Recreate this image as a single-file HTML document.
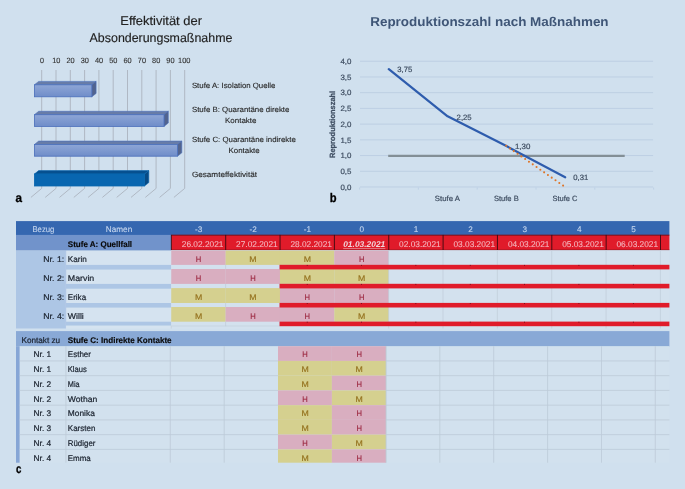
<!DOCTYPE html>
<html lang="de"><head><meta charset="utf-8"><title>Absonderungsma&szlig;nahmen</title>
<style>html,body{margin:0;padding:0;background:#d0e0ee;}body{width:685px;height:489px;overflow:hidden;}svg{display:block;font-family:"Liberation Sans", sans-serif;text-rendering:geometricPrecision;}</style>
</head><body>
<svg width="685" height="489" viewBox="0 0 685 489">
<defs>
<linearGradient id="gf" x1="0" y1="0" x2="0" y2="1"><stop offset="0" stop-color="#8ea6d6"/><stop offset="1" stop-color="#6f8dc9"/></linearGradient>
</defs>
<rect x="0.00" y="0.00" width="685.00" height="489.00" fill="#d0e0ee"/>
<g id="chart-a">
<text x="120.3" y="24.9" font-size="12.6" fill="#222" textLength="81.7" lengthAdjust="spacingAndGlyphs" stroke="#222" stroke-width="0.15">Effektivität der</text>
<text x="89.6" y="41.5" font-size="12.6" fill="#222" textLength="142.8" lengthAdjust="spacingAndGlyphs" stroke="#222" stroke-width="0.15">Absonderungsmaßnahme</text>
<text x="40.0" y="63.4" font-size="7.6" fill="#333" textLength="4.0" lengthAdjust="spacingAndGlyphs" stroke="#333" stroke-width="0.12">0</text>
<text x="52.2" y="63.4" font-size="7.6" fill="#333" textLength="8.2" lengthAdjust="spacingAndGlyphs" stroke="#333" stroke-width="0.12">10</text>
<text x="66.4" y="63.4" font-size="7.6" fill="#333" textLength="8.2" lengthAdjust="spacingAndGlyphs" stroke="#333" stroke-width="0.12">20</text>
<text x="80.7" y="63.4" font-size="7.6" fill="#333" textLength="8.2" lengthAdjust="spacingAndGlyphs" stroke="#333" stroke-width="0.12">30</text>
<text x="95.0" y="63.4" font-size="7.6" fill="#333" textLength="8.2" lengthAdjust="spacingAndGlyphs" stroke="#333" stroke-width="0.12">40</text>
<text x="109.2" y="63.4" font-size="7.6" fill="#333" textLength="8.2" lengthAdjust="spacingAndGlyphs" stroke="#333" stroke-width="0.12">50</text>
<text x="123.5" y="63.4" font-size="7.6" fill="#333" textLength="8.2" lengthAdjust="spacingAndGlyphs" stroke="#333" stroke-width="0.12">60</text>
<text x="137.8" y="63.4" font-size="7.6" fill="#333" textLength="8.2" lengthAdjust="spacingAndGlyphs" stroke="#333" stroke-width="0.12">70</text>
<text x="152.1" y="63.4" font-size="7.6" fill="#333" textLength="8.2" lengthAdjust="spacingAndGlyphs" stroke="#333" stroke-width="0.12">80</text>
<text x="166.3" y="63.4" font-size="7.6" fill="#333" textLength="8.2" lengthAdjust="spacingAndGlyphs" stroke="#333" stroke-width="0.12">90</text>
<text x="178.1" y="63.4" font-size="7.6" fill="#333" textLength="12.4" lengthAdjust="spacingAndGlyphs" stroke="#333" stroke-width="0.12">100</text>
<polyline points="41.7,70 41.7,188.4 30.9,197.4" fill="none" stroke="#abb3be" stroke-width="0.9"/>
<polyline points="56.0,70 56.0,188.4 45.2,197.4" fill="none" stroke="#abb3be" stroke-width="0.9"/>
<polyline points="70.3,70 70.3,188.4 59.5,197.4" fill="none" stroke="#abb3be" stroke-width="0.9"/>
<polyline points="84.6,70 84.6,188.4 73.8,197.4" fill="none" stroke="#abb3be" stroke-width="0.9"/>
<polyline points="98.9,70 98.9,188.4 88.1,197.4" fill="none" stroke="#abb3be" stroke-width="0.9"/>
<polyline points="113.2,70 113.2,188.4 102.4,197.4" fill="none" stroke="#abb3be" stroke-width="0.9"/>
<polyline points="127.5,70 127.5,188.4 116.7,197.4" fill="none" stroke="#abb3be" stroke-width="0.9"/>
<polyline points="141.8,70 141.8,188.4 131.0,197.4" fill="none" stroke="#abb3be" stroke-width="0.9"/>
<polyline points="156.1,70 156.1,188.4 145.3,197.4" fill="none" stroke="#abb3be" stroke-width="0.9"/>
<polyline points="170.4,70 170.4,188.4 159.6,197.4" fill="none" stroke="#abb3be" stroke-width="0.9"/>
<polyline points="184.7,70 184.7,188.4 173.9,197.4" fill="none" stroke="#abb3be" stroke-width="0.9"/>
<polygon points="34.4,84.8 38.699999999999996,81.39999999999999 96.1,81.39999999999999 91.8,84.8" fill="#677ca8" stroke="#4a6fbb" stroke-width="0.6" stroke-linejoin="round"/>
<polygon points="91.8,84.8 96.1,81.39999999999999 96.1,93.39999999999999 91.8,96.8" fill="#52648e" stroke="#4a6fbb" stroke-width="0.6" stroke-linejoin="round"/>
<rect x="34.4" y="84.8" width="57.4" height="12.0" fill="url(#gf)" stroke="#4a6fbb" stroke-width="0.8"/>
<polygon points="34.4,114.7 38.699999999999996,111.3 168.3,111.3 164.0,114.7" fill="#677ca8" stroke="#4a6fbb" stroke-width="0.6" stroke-linejoin="round"/>
<polygon points="164.0,114.7 168.3,111.3 168.3,123.0 164.0,126.4" fill="#52648e" stroke="#4a6fbb" stroke-width="0.6" stroke-linejoin="round"/>
<rect x="34.4" y="114.7" width="129.6" height="11.7" fill="url(#gf)" stroke="#4a6fbb" stroke-width="0.8"/>
<polygon points="34.4,144.5 38.699999999999996,141.1 181.8,141.1 177.5,144.5" fill="#677ca8" stroke="#4a6fbb" stroke-width="0.6" stroke-linejoin="round"/>
<polygon points="177.5,144.5 181.8,141.1 181.8,152.79999999999998 177.5,156.2" fill="#52648e" stroke="#4a6fbb" stroke-width="0.6" stroke-linejoin="round"/>
<rect x="34.4" y="144.5" width="143.1" height="11.7" fill="url(#gf)" stroke="#4a6fbb" stroke-width="0.8"/>
<polygon points="34.4,174.0 38.699999999999996,170.6 148.8,170.6 144.5,174.0" fill="#06508f" stroke="#0866b0" stroke-width="0.6" stroke-linejoin="round"/>
<polygon points="144.5,174.0 148.8,170.6 148.8,182.6 144.5,186.0" fill="#064a85" stroke="#0866b0" stroke-width="0.6" stroke-linejoin="round"/>
<rect x="34.4" y="174.0" width="110.1" height="12.0" fill="#0866b0" stroke="#0866b0" stroke-width="0.8"/>
<text x="191.9" y="88.4" font-size="7.6" fill="#262626" textLength="83.5" lengthAdjust="spacingAndGlyphs" stroke="#262626" stroke-width="0.12">Stufe A: Isolation Quelle</text>
<text x="191.9" y="112.2" font-size="7.6" fill="#262626" textLength="97.5" lengthAdjust="spacingAndGlyphs" stroke="#262626" stroke-width="0.12">Stufe B: Quarantäne direkte</text>
<text x="225.0" y="122.9" font-size="7.6" fill="#262626" textLength="31.5" lengthAdjust="spacingAndGlyphs" stroke="#262626" stroke-width="0.12">Kontakte</text>
<text x="191.9" y="141.8" font-size="7.6" fill="#262626" textLength="103.9" lengthAdjust="spacingAndGlyphs" stroke="#262626" stroke-width="0.12">Stufe C: Quarantäne indirekte</text>
<text x="228.5" y="153.1" font-size="7.6" fill="#262626" textLength="31.2" lengthAdjust="spacingAndGlyphs" stroke="#262626" stroke-width="0.12">Kontakte</text>
<text x="191.9" y="177.0" font-size="7.6" fill="#262626" textLength="65.1" lengthAdjust="spacingAndGlyphs" stroke="#262626" stroke-width="0.12">Gesamteffektivität</text>
<text x="15.5" y="201.8" font-size="12.5" fill="#000" font-weight="bold" textLength="6.5" lengthAdjust="spacingAndGlyphs" stroke="#000" stroke-width="0.3">a</text>
</g>
<g id="chart-b">
<text x="370.2" y="26.3" font-size="12.9" fill="#3f5677" font-weight="bold" textLength="238.4" lengthAdjust="spacingAndGlyphs">Reproduktionszahl nach Maßnahmen</text>
<line x1="360.00" y1="187.00" x2="653.10" y2="187.00" stroke="#bdcfe3" stroke-width="1.0"/>
<text x="340.4" y="189.7" font-size="7.6" fill="#3f4e62" textLength="11.0" lengthAdjust="spacingAndGlyphs" stroke="#3f4e62" stroke-width="0.2">0,0</text>
<line x1="360.00" y1="171.28" x2="653.10" y2="171.28" stroke="#bdcfe3" stroke-width="1.0"/>
<text x="340.4" y="174.0" font-size="7.6" fill="#3f4e62" textLength="11.0" lengthAdjust="spacingAndGlyphs" stroke="#3f4e62" stroke-width="0.2">0,5</text>
<line x1="360.00" y1="155.56" x2="653.10" y2="155.56" stroke="#bdcfe3" stroke-width="1.0"/>
<text x="340.4" y="158.3" font-size="7.6" fill="#3f4e62" textLength="11.0" lengthAdjust="spacingAndGlyphs" stroke="#3f4e62" stroke-width="0.2">1,0</text>
<line x1="360.00" y1="139.84" x2="653.10" y2="139.84" stroke="#bdcfe3" stroke-width="1.0"/>
<text x="340.4" y="142.5" font-size="7.6" fill="#3f4e62" textLength="11.0" lengthAdjust="spacingAndGlyphs" stroke="#3f4e62" stroke-width="0.2">1,5</text>
<line x1="360.00" y1="124.12" x2="653.10" y2="124.12" stroke="#bdcfe3" stroke-width="1.0"/>
<text x="340.4" y="126.8" font-size="7.6" fill="#3f4e62" textLength="11.0" lengthAdjust="spacingAndGlyphs" stroke="#3f4e62" stroke-width="0.2">2,0</text>
<line x1="360.00" y1="108.40" x2="653.10" y2="108.40" stroke="#bdcfe3" stroke-width="1.0"/>
<text x="340.4" y="111.1" font-size="7.6" fill="#3f4e62" textLength="11.0" lengthAdjust="spacingAndGlyphs" stroke="#3f4e62" stroke-width="0.2">2,5</text>
<line x1="360.00" y1="92.68" x2="653.10" y2="92.68" stroke="#bdcfe3" stroke-width="1.0"/>
<text x="340.4" y="95.4" font-size="7.6" fill="#3f4e62" textLength="11.0" lengthAdjust="spacingAndGlyphs" stroke="#3f4e62" stroke-width="0.2">3,0</text>
<line x1="360.00" y1="76.96" x2="653.10" y2="76.96" stroke="#bdcfe3" stroke-width="1.0"/>
<text x="340.4" y="79.7" font-size="7.6" fill="#3f4e62" textLength="11.0" lengthAdjust="spacingAndGlyphs" stroke="#3f4e62" stroke-width="0.2">3,5</text>
<line x1="360.00" y1="61.24" x2="653.10" y2="61.24" stroke="#bdcfe3" stroke-width="1.0"/>
<text x="340.4" y="63.9" font-size="7.6" fill="#3f4e62" textLength="11.0" lengthAdjust="spacingAndGlyphs" stroke="#3f4e62" stroke-width="0.2">4,0</text>
<line x1="359.60" y1="187.50" x2="359.60" y2="189.60" stroke="#bccfe4" stroke-width="0.9"/>
<line x1="418.40" y1="187.50" x2="418.40" y2="189.60" stroke="#bccfe4" stroke-width="0.9"/>
<line x1="477.20" y1="187.50" x2="477.20" y2="189.60" stroke="#bccfe4" stroke-width="0.9"/>
<line x1="536.00" y1="187.50" x2="536.00" y2="189.60" stroke="#bccfe4" stroke-width="0.9"/>
<line x1="594.80" y1="187.50" x2="594.80" y2="189.60" stroke="#bccfe4" stroke-width="0.9"/>
<line x1="653.60" y1="187.50" x2="653.60" y2="189.60" stroke="#bccfe4" stroke-width="0.9"/>
<text transform="translate(334.9,158) rotate(-90)" font-size="7.6" font-weight="bold" fill="#3f4e62" stroke="#3f4e62" stroke-width="0.25" textLength="67.2" lengthAdjust="spacingAndGlyphs">Reproduktionszahl</text>
<line x1="388.20" y1="155.86" x2="624.70" y2="155.86" stroke="#838f96" stroke-width="2.1"/>
<polyline points="388.8,69.1 447.6,116.3 506.4,146.1 565.2,177.3" fill="none" stroke="#2e5cad" stroke-width="2.2" stroke-linejoin="round" stroke-linecap="round"/>
<line x1="506.2" y1="145.8" x2="563.1" y2="185.6" stroke="#de7528" stroke-width="2.1" stroke-dasharray="0 4.629" stroke-linecap="round"/>
<text x="397.3" y="72.4" font-size="7.6" fill="#3f4e62" textLength="15.0" lengthAdjust="spacingAndGlyphs" stroke="#3f4e62" stroke-width="0.2">3,75</text>
<text x="456.6" y="119.6" font-size="7.6" fill="#3f4e62" textLength="15.0" lengthAdjust="spacingAndGlyphs" stroke="#3f4e62" stroke-width="0.2">2,25</text>
<text x="514.9" y="148.9" font-size="7.6" fill="#3f4e62" textLength="15.4" lengthAdjust="spacingAndGlyphs" stroke="#3f4e62" stroke-width="0.2">1,30</text>
<text x="573.3" y="180.2" font-size="7.6" fill="#3f4e62" textLength="15.0" lengthAdjust="spacingAndGlyphs" stroke="#3f4e62" stroke-width="0.2">0,31</text>
<text x="434.8" y="201.0" font-size="7.6" fill="#3f4e62" textLength="25.1" lengthAdjust="spacingAndGlyphs" stroke="#3f4e62" stroke-width="0.2">Stufe A</text>
<text x="493.9" y="201.0" font-size="7.6" fill="#3f4e62" textLength="24.8" lengthAdjust="spacingAndGlyphs" stroke="#3f4e62" stroke-width="0.2">Stufe B</text>
<text x="552.5" y="201.0" font-size="7.6" fill="#3f4e62" textLength="24.8" lengthAdjust="spacingAndGlyphs" stroke="#3f4e62" stroke-width="0.2">Stufe C</text>
<text x="329.8" y="202.0" font-size="12.5" fill="#000" font-weight="bold" textLength="6.8" lengthAdjust="spacingAndGlyphs" stroke="#000" stroke-width="0.3">b</text>
</g>
<g id="table-c">
<rect x="16.00" y="221.10" width="653.40" height="13.90" fill="#3567b0"/>
<text x="43.4" y="231.7" font-size="8.2" fill="#c6d6ee" text-anchor="middle" textLength="21.9" lengthAdjust="spacingAndGlyphs" stroke="#c6d6ee" stroke-width="0.1">Bezug</text>
<text x="119.0" y="231.7" font-size="8.2" fill="#c6d6ee" text-anchor="middle" textLength="26.4" lengthAdjust="spacingAndGlyphs" stroke="#c6d6ee" stroke-width="0.1">Namen</text>
<text x="198.7" y="232.3" font-size="8.2" fill="#c6d6ee" text-anchor="middle" stroke="#c6d6ee" stroke-width="0.1">-3</text>
<text x="253.1" y="232.3" font-size="8.2" fill="#c6d6ee" text-anchor="middle" stroke="#c6d6ee" stroke-width="0.1">-2</text>
<text x="307.4" y="232.3" font-size="8.2" fill="#c6d6ee" text-anchor="middle" stroke="#c6d6ee" stroke-width="0.1">-1</text>
<text x="361.8" y="232.3" font-size="8.2" fill="#c6d6ee" text-anchor="middle" stroke="#c6d6ee" stroke-width="0.1">0</text>
<text x="416.1" y="232.3" font-size="8.2" fill="#c6d6ee" text-anchor="middle" stroke="#c6d6ee" stroke-width="0.1">1</text>
<text x="470.5" y="232.3" font-size="8.2" fill="#c6d6ee" text-anchor="middle" stroke="#c6d6ee" stroke-width="0.1">2</text>
<text x="524.8" y="232.3" font-size="8.2" fill="#c6d6ee" text-anchor="middle" stroke="#c6d6ee" stroke-width="0.1">3</text>
<text x="579.2" y="232.3" font-size="8.2" fill="#c6d6ee" text-anchor="middle" stroke="#c6d6ee" stroke-width="0.1">4</text>
<text x="633.5" y="232.3" font-size="8.2" fill="#c6d6ee" text-anchor="middle" stroke="#c6d6ee" stroke-width="0.1">5</text>
<rect x="16.00" y="234.90" width="155.25" height="15.60" fill="#7193cb"/>
<rect x="171.25" y="234.90" width="498.15" height="15.10" fill="#e01b2a"/>
<text x="67.8" y="247.0" font-size="8.2" fill="#0a0a0a" font-weight="bold" textLength="64.3" lengthAdjust="spacingAndGlyphs" stroke="#0a0a0a" stroke-width="0.15">Stufe A: Quellfall</text>
<text x="181.8" y="246.9" font-size="8.3" fill="#f3b6be" textLength="41.6" lengthAdjust="spacingAndGlyphs" stroke="#f3b6be" stroke-width="0.1">26.02.2021</text>
<text x="236.1" y="246.9" font-size="8.3" fill="#f3b6be" textLength="41.6" lengthAdjust="spacingAndGlyphs" stroke="#f3b6be" stroke-width="0.1">27.02.2021</text>
<text x="290.4" y="246.9" font-size="8.3" fill="#f3b6be" textLength="41.6" lengthAdjust="spacingAndGlyphs" stroke="#f3b6be" stroke-width="0.1">28.02.2021</text>
<text x="343.2" y="246.9" font-size="8.3" fill="#f0d6db" font-weight="bold" font-style="italic" textLength="42.1" lengthAdjust="spacingAndGlyphs">01.03.2021</text>
<line x1="343.20" y1="248.60" x2="385.30" y2="248.60" stroke="#e8a4ad" stroke-width="0.7"/>
<text x="399.1" y="246.9" font-size="8.3" fill="#f3b6be" textLength="41.6" lengthAdjust="spacingAndGlyphs" stroke="#f3b6be" stroke-width="0.1">02.03.2021</text>
<text x="453.5" y="246.9" font-size="8.3" fill="#f3b6be" textLength="41.6" lengthAdjust="spacingAndGlyphs" stroke="#f3b6be" stroke-width="0.1">03.03.2021</text>
<text x="507.9" y="246.9" font-size="8.3" fill="#f3b6be" textLength="41.6" lengthAdjust="spacingAndGlyphs" stroke="#f3b6be" stroke-width="0.1">04.03.2021</text>
<text x="562.2" y="246.9" font-size="8.3" fill="#f3b6be" textLength="41.6" lengthAdjust="spacingAndGlyphs" stroke="#f3b6be" stroke-width="0.1">05.03.2021</text>
<text x="616.5" y="246.9" font-size="8.3" fill="#f3b6be" textLength="41.6" lengthAdjust="spacingAndGlyphs" stroke="#f3b6be" stroke-width="0.1">06.03.2021</text>
<line x1="171.25" y1="235.20" x2="669.40" y2="235.20" stroke="#5c1018" stroke-width="0.8"/>
<line x1="171.25" y1="249.80" x2="669.40" y2="249.80" stroke="#8a1520" stroke-width="0.6"/>
<line x1="171.35" y1="234.90" x2="171.35" y2="250.00" stroke="#3a0a10" stroke-width="0.9"/>
<line x1="225.70" y1="234.90" x2="225.70" y2="250.00" stroke="#3a0a10" stroke-width="0.9"/>
<line x1="280.05" y1="234.90" x2="280.05" y2="250.00" stroke="#3a0a10" stroke-width="0.9"/>
<line x1="334.40" y1="234.90" x2="334.40" y2="250.00" stroke="#3a0a10" stroke-width="0.9"/>
<line x1="388.75" y1="234.90" x2="388.75" y2="250.00" stroke="#3a0a10" stroke-width="0.9"/>
<line x1="443.10" y1="234.90" x2="443.10" y2="250.00" stroke="#3a0a10" stroke-width="0.9"/>
<line x1="497.45" y1="234.90" x2="497.45" y2="250.00" stroke="#3a0a10" stroke-width="0.9"/>
<line x1="551.80" y1="234.90" x2="551.80" y2="250.00" stroke="#3a0a10" stroke-width="0.9"/>
<line x1="606.15" y1="234.90" x2="606.15" y2="250.00" stroke="#3a0a10" stroke-width="0.9"/>
<line x1="660.50" y1="234.90" x2="660.50" y2="250.00" stroke="#3a0a10" stroke-width="0.9"/>
<rect x="16.00" y="250.80" width="49.90" height="77.70" fill="#adc6e5"/>
<rect x="65.90" y="250.80" width="105.35" height="74.80" fill="#adc6e5"/>
<rect x="171.25" y="250.60" width="498.15" height="77.90" fill="#d3e1ee"/>
<rect x="66.20" y="250.80" width="105.05" height="14.10" fill="#d5e3f0"/>
<text x="64.2" y="262.0" font-size="8.2" fill="#1a222e" text-anchor="end" textLength="20.9" lengthAdjust="spacingAndGlyphs" stroke="#1a222e" stroke-width="0.2">Nr. 1:</text>
<text x="67.8" y="262.0" font-size="8.2" fill="#1a222e" textLength="19.0" lengthAdjust="spacingAndGlyphs" stroke="#1a222e" stroke-width="0.2">Karin</text>
<rect x="171.25" y="250.60" width="54.45" height="14.30" fill="#d9aec0"/>
<text x="198.6" y="261.8" font-size="8.1" fill="#9c2840" text-anchor="middle" textLength="5.5" lengthAdjust="spacingAndGlyphs" stroke="#9c2840" stroke-width="0.15">H</text>
<rect x="225.60" y="250.60" width="54.45" height="14.30" fill="#d5d08f"/>
<text x="253.0" y="261.8" font-size="8.1" fill="#94701c" text-anchor="middle" textLength="7.3" lengthAdjust="spacingAndGlyphs" stroke="#94701c" stroke-width="0.15">M</text>
<rect x="279.95" y="250.60" width="54.45" height="14.30" fill="#d5d08f"/>
<text x="307.3" y="261.8" font-size="8.1" fill="#94701c" text-anchor="middle" textLength="7.3" lengthAdjust="spacingAndGlyphs" stroke="#94701c" stroke-width="0.15">M</text>
<rect x="334.30" y="250.60" width="54.45" height="14.30" fill="#d9aec0"/>
<text x="361.7" y="261.8" font-size="8.1" fill="#9c2840" text-anchor="middle" textLength="5.5" lengthAdjust="spacingAndGlyphs" stroke="#9c2840" stroke-width="0.15">H</text>
<rect x="66.20" y="269.60" width="105.05" height="14.30" fill="#d5e3f0"/>
<text x="64.2" y="281.0" font-size="8.2" fill="#1a222e" text-anchor="end" textLength="20.9" lengthAdjust="spacingAndGlyphs" stroke="#1a222e" stroke-width="0.2">Nr. 2:</text>
<text x="67.8" y="281.0" font-size="8.2" fill="#1a222e" textLength="26.5" lengthAdjust="spacingAndGlyphs" stroke="#1a222e" stroke-width="0.2">Marvin</text>
<rect x="171.25" y="269.00" width="54.45" height="14.90" fill="#d9aec0"/>
<text x="198.6" y="280.8" font-size="8.1" fill="#9c2840" text-anchor="middle" textLength="5.5" lengthAdjust="spacingAndGlyphs" stroke="#9c2840" stroke-width="0.15">H</text>
<rect x="225.60" y="269.00" width="54.45" height="14.90" fill="#d9aec0"/>
<text x="253.0" y="280.8" font-size="8.1" fill="#9c2840" text-anchor="middle" textLength="5.5" lengthAdjust="spacingAndGlyphs" stroke="#9c2840" stroke-width="0.15">H</text>
<rect x="279.95" y="269.00" width="54.45" height="14.90" fill="#d5d08f"/>
<text x="307.3" y="280.8" font-size="8.1" fill="#94701c" text-anchor="middle" textLength="7.3" lengthAdjust="spacingAndGlyphs" stroke="#94701c" stroke-width="0.15">M</text>
<rect x="334.30" y="269.00" width="54.45" height="14.90" fill="#d5d08f"/>
<text x="361.7" y="280.8" font-size="8.1" fill="#94701c" text-anchor="middle" textLength="7.3" lengthAdjust="spacingAndGlyphs" stroke="#94701c" stroke-width="0.15">M</text>
<rect x="66.20" y="288.70" width="105.05" height="14.30" fill="#d5e3f0"/>
<text x="64.2" y="300.1" font-size="8.2" fill="#1a222e" text-anchor="end" textLength="20.9" lengthAdjust="spacingAndGlyphs" stroke="#1a222e" stroke-width="0.2">Nr. 3:</text>
<text x="67.8" y="300.1" font-size="8.2" fill="#1a222e" textLength="18.3" lengthAdjust="spacingAndGlyphs" stroke="#1a222e" stroke-width="0.2">Erika</text>
<rect x="171.25" y="288.10" width="54.45" height="14.90" fill="#d5d08f"/>
<text x="198.6" y="299.9" font-size="8.1" fill="#94701c" text-anchor="middle" textLength="7.3" lengthAdjust="spacingAndGlyphs" stroke="#94701c" stroke-width="0.15">M</text>
<rect x="225.60" y="288.10" width="54.45" height="14.90" fill="#d5d08f"/>
<text x="253.0" y="299.9" font-size="8.1" fill="#94701c" text-anchor="middle" textLength="7.3" lengthAdjust="spacingAndGlyphs" stroke="#94701c" stroke-width="0.15">M</text>
<rect x="279.95" y="288.10" width="54.45" height="14.90" fill="#d9aec0"/>
<text x="307.3" y="299.9" font-size="8.1" fill="#9c2840" text-anchor="middle" textLength="5.5" lengthAdjust="spacingAndGlyphs" stroke="#9c2840" stroke-width="0.15">H</text>
<rect x="334.30" y="288.10" width="54.45" height="14.90" fill="#d9aec0"/>
<text x="361.7" y="299.9" font-size="8.1" fill="#9c2840" text-anchor="middle" textLength="5.5" lengthAdjust="spacingAndGlyphs" stroke="#9c2840" stroke-width="0.15">H</text>
<rect x="66.20" y="307.60" width="105.05" height="14.10" fill="#d5e3f0"/>
<text x="64.2" y="318.8" font-size="8.2" fill="#1a222e" text-anchor="end" textLength="20.9" lengthAdjust="spacingAndGlyphs" stroke="#1a222e" stroke-width="0.2">Nr. 4:</text>
<text x="67.8" y="318.8" font-size="8.2" fill="#1a222e" textLength="16.0" lengthAdjust="spacingAndGlyphs" stroke="#1a222e" stroke-width="0.2">Willi</text>
<rect x="171.25" y="307.00" width="54.45" height="14.70" fill="#d5d08f"/>
<text x="198.6" y="318.6" font-size="8.1" fill="#94701c" text-anchor="middle" textLength="7.3" lengthAdjust="spacingAndGlyphs" stroke="#94701c" stroke-width="0.15">M</text>
<rect x="225.60" y="307.00" width="54.45" height="14.70" fill="#d9aec0"/>
<text x="253.0" y="318.6" font-size="8.1" fill="#9c2840" text-anchor="middle" textLength="5.5" lengthAdjust="spacingAndGlyphs" stroke="#9c2840" stroke-width="0.15">H</text>
<rect x="279.95" y="307.00" width="54.45" height="14.70" fill="#d9aec0"/>
<text x="307.3" y="318.6" font-size="8.1" fill="#9c2840" text-anchor="middle" textLength="5.5" lengthAdjust="spacingAndGlyphs" stroke="#9c2840" stroke-width="0.15">H</text>
<rect x="334.30" y="307.00" width="54.45" height="14.70" fill="#d5d08f"/>
<text x="361.7" y="318.6" font-size="8.1" fill="#94701c" text-anchor="middle" textLength="7.3" lengthAdjust="spacingAndGlyphs" stroke="#94701c" stroke-width="0.15">M</text>
<rect x="66.20" y="325.80" width="105.05" height="2.70" fill="#d5e3f0"/>
<line x1="225.60" y1="264.90" x2="225.60" y2="269.30" stroke="#c0ccd9" stroke-width="0.7"/>
<line x1="225.60" y1="283.90" x2="225.60" y2="288.30" stroke="#c0ccd9" stroke-width="0.7"/>
<line x1="225.60" y1="303.00" x2="225.60" y2="307.40" stroke="#c0ccd9" stroke-width="0.7"/>
<line x1="225.60" y1="321.70" x2="225.60" y2="326.10" stroke="#c0ccd9" stroke-width="0.7"/>
<line x1="279.95" y1="264.90" x2="279.95" y2="269.30" stroke="#c0ccd9" stroke-width="0.7"/>
<line x1="279.95" y1="283.90" x2="279.95" y2="288.30" stroke="#c0ccd9" stroke-width="0.7"/>
<line x1="279.95" y1="303.00" x2="279.95" y2="307.40" stroke="#c0ccd9" stroke-width="0.7"/>
<line x1="279.95" y1="321.70" x2="279.95" y2="326.10" stroke="#c0ccd9" stroke-width="0.7"/>
<line x1="334.30" y1="264.90" x2="334.30" y2="269.30" stroke="#c0ccd9" stroke-width="0.7"/>
<line x1="334.30" y1="283.90" x2="334.30" y2="288.30" stroke="#c0ccd9" stroke-width="0.7"/>
<line x1="334.30" y1="303.00" x2="334.30" y2="307.40" stroke="#c0ccd9" stroke-width="0.7"/>
<line x1="334.30" y1="321.70" x2="334.30" y2="326.10" stroke="#c0ccd9" stroke-width="0.7"/>
<line x1="388.65" y1="250.60" x2="388.65" y2="328.50" stroke="#c0ccd9" stroke-width="0.7"/>
<line x1="443.00" y1="250.60" x2="443.00" y2="328.50" stroke="#c0ccd9" stroke-width="0.7"/>
<line x1="497.35" y1="250.60" x2="497.35" y2="328.50" stroke="#c0ccd9" stroke-width="0.7"/>
<line x1="551.70" y1="250.60" x2="551.70" y2="328.50" stroke="#c0ccd9" stroke-width="0.7"/>
<line x1="606.05" y1="250.60" x2="606.05" y2="328.50" stroke="#c0ccd9" stroke-width="0.7"/>
<line x1="660.40" y1="250.60" x2="660.40" y2="328.50" stroke="#c0ccd9" stroke-width="0.7"/>
<line x1="171.25" y1="325.80" x2="171.25" y2="328.50" stroke="#c0ccd9" stroke-width="0.7"/>
<line x1="171.25" y1="326.00" x2="279.95" y2="326.00" stroke="#c0ccd9" stroke-width="0.6"/>
<rect x="279.55" y="264.80" width="389.85" height="4.60" fill="#e01b2a"/>
<rect x="306.82" y="264.90" width="0.70" height="1.00" fill="#5a0a12"/>
<rect x="361.18" y="264.90" width="0.70" height="1.00" fill="#5a0a12"/>
<rect x="415.53" y="264.90" width="0.70" height="1.00" fill="#5a0a12"/>
<rect x="469.88" y="264.90" width="0.70" height="1.00" fill="#5a0a12"/>
<rect x="524.23" y="264.90" width="0.70" height="1.00" fill="#5a0a12"/>
<rect x="578.58" y="264.90" width="0.70" height="1.00" fill="#5a0a12"/>
<rect x="632.93" y="264.90" width="0.70" height="1.00" fill="#5a0a12"/>
<rect x="279.55" y="283.80" width="389.85" height="4.60" fill="#e01b2a"/>
<rect x="306.82" y="283.90" width="0.70" height="1.00" fill="#5a0a12"/>
<rect x="361.18" y="283.90" width="0.70" height="1.00" fill="#5a0a12"/>
<rect x="415.53" y="283.90" width="0.70" height="1.00" fill="#5a0a12"/>
<rect x="469.88" y="283.90" width="0.70" height="1.00" fill="#5a0a12"/>
<rect x="524.23" y="283.90" width="0.70" height="1.00" fill="#5a0a12"/>
<rect x="578.58" y="283.90" width="0.70" height="1.00" fill="#5a0a12"/>
<rect x="632.93" y="283.90" width="0.70" height="1.00" fill="#5a0a12"/>
<rect x="279.55" y="302.90" width="389.85" height="4.60" fill="#e01b2a"/>
<rect x="306.82" y="303.00" width="0.70" height="1.00" fill="#5a0a12"/>
<rect x="361.18" y="303.00" width="0.70" height="1.00" fill="#5a0a12"/>
<rect x="415.53" y="303.00" width="0.70" height="1.00" fill="#5a0a12"/>
<rect x="469.88" y="303.00" width="0.70" height="1.00" fill="#5a0a12"/>
<rect x="524.23" y="303.00" width="0.70" height="1.00" fill="#5a0a12"/>
<rect x="578.58" y="303.00" width="0.70" height="1.00" fill="#5a0a12"/>
<rect x="632.93" y="303.00" width="0.70" height="1.00" fill="#5a0a12"/>
<rect x="279.55" y="321.60" width="389.85" height="4.60" fill="#e01b2a"/>
<rect x="306.82" y="321.70" width="0.70" height="1.00" fill="#5a0a12"/>
<rect x="361.18" y="321.70" width="0.70" height="1.00" fill="#5a0a12"/>
<rect x="415.53" y="321.70" width="0.70" height="1.00" fill="#5a0a12"/>
<rect x="469.88" y="321.70" width="0.70" height="1.00" fill="#5a0a12"/>
<rect x="524.23" y="321.70" width="0.70" height="1.00" fill="#5a0a12"/>
<rect x="578.58" y="321.70" width="0.70" height="1.00" fill="#5a0a12"/>
<rect x="632.93" y="321.70" width="0.70" height="1.00" fill="#5a0a12"/>
<rect x="16.00" y="331.10" width="653.40" height="15.50" fill="#89a9d6"/>
<text x="21.5" y="342.9" font-size="8.2" fill="#1a222e" textLength="38.6" lengthAdjust="spacingAndGlyphs" stroke="#1a222e" stroke-width="0.2">Kontakt zu</text>
<text x="67.8" y="342.9" font-size="8.2" fill="#0a0a0a" font-weight="bold" textLength="103.8" lengthAdjust="spacingAndGlyphs" stroke="#0a0a0a" stroke-width="0.15">Stufe C: Indirekte Kontakte</text>
<rect x="16.00" y="346.20" width="653.40" height="116.50" fill="#d2e1ee"/>
<rect x="16.00" y="346.20" width="3.60" height="116.50" fill="#86a6d6"/>
<rect x="278.00" y="346.20" width="53.90" height="14.74" fill="#d9aec0"/>
<text x="305.1" y="357.4" font-size="8.1" fill="#9c2840" text-anchor="middle" textLength="5.5" lengthAdjust="spacingAndGlyphs" stroke="#9c2840" stroke-width="0.15">H</text>
<rect x="331.90" y="346.20" width="54.20" height="14.74" fill="#d9aec0"/>
<text x="359.2" y="357.4" font-size="8.1" fill="#9c2840" text-anchor="middle" textLength="5.5" lengthAdjust="spacingAndGlyphs" stroke="#9c2840" stroke-width="0.15">H</text>
<text x="42.4" y="357.3" font-size="8.2" fill="#1a222e" text-anchor="middle" textLength="17.6" lengthAdjust="spacingAndGlyphs" stroke="#1a222e" stroke-width="0.2">Nr. 1</text>
<text x="67.8" y="357.3" font-size="8.2" fill="#1a222e" textLength="23.2" lengthAdjust="spacingAndGlyphs" stroke="#1a222e" stroke-width="0.2">Esther</text>
<rect x="278.00" y="360.94" width="53.90" height="14.74" fill="#d5d08f"/>
<text x="305.1" y="372.1" font-size="8.1" fill="#94701c" text-anchor="middle" textLength="7.3" lengthAdjust="spacingAndGlyphs" stroke="#94701c" stroke-width="0.15">M</text>
<rect x="331.90" y="360.94" width="54.20" height="14.74" fill="#d5d08f"/>
<text x="359.2" y="372.1" font-size="8.1" fill="#94701c" text-anchor="middle" textLength="7.3" lengthAdjust="spacingAndGlyphs" stroke="#94701c" stroke-width="0.15">M</text>
<text x="42.4" y="372.0" font-size="8.2" fill="#1a222e" text-anchor="middle" textLength="17.6" lengthAdjust="spacingAndGlyphs" stroke="#1a222e" stroke-width="0.2">Nr. 1</text>
<text x="67.8" y="372.0" font-size="8.2" fill="#1a222e" textLength="19.0" lengthAdjust="spacingAndGlyphs" stroke="#1a222e" stroke-width="0.2">Klaus</text>
<rect x="278.00" y="375.68" width="53.90" height="14.74" fill="#d5d08f"/>
<text x="305.1" y="386.9" font-size="8.1" fill="#94701c" text-anchor="middle" textLength="7.3" lengthAdjust="spacingAndGlyphs" stroke="#94701c" stroke-width="0.15">M</text>
<rect x="331.90" y="375.68" width="54.20" height="14.74" fill="#d9aec0"/>
<text x="359.2" y="386.9" font-size="8.1" fill="#9c2840" text-anchor="middle" textLength="5.5" lengthAdjust="spacingAndGlyphs" stroke="#9c2840" stroke-width="0.15">H</text>
<text x="42.4" y="386.8" font-size="8.2" fill="#1a222e" text-anchor="middle" textLength="17.6" lengthAdjust="spacingAndGlyphs" stroke="#1a222e" stroke-width="0.2">Nr. 2</text>
<text x="67.8" y="386.8" font-size="8.2" fill="#1a222e" textLength="11.8" lengthAdjust="spacingAndGlyphs" stroke="#1a222e" stroke-width="0.2">Mia</text>
<rect x="278.00" y="390.42" width="53.90" height="14.74" fill="#d9aec0"/>
<text x="305.1" y="401.6" font-size="8.1" fill="#9c2840" text-anchor="middle" textLength="5.5" lengthAdjust="spacingAndGlyphs" stroke="#9c2840" stroke-width="0.15">H</text>
<rect x="331.90" y="390.42" width="54.20" height="14.74" fill="#d5d08f"/>
<text x="359.2" y="401.6" font-size="8.1" fill="#94701c" text-anchor="middle" textLength="7.3" lengthAdjust="spacingAndGlyphs" stroke="#94701c" stroke-width="0.15">M</text>
<text x="42.4" y="401.5" font-size="8.2" fill="#1a222e" text-anchor="middle" textLength="17.6" lengthAdjust="spacingAndGlyphs" stroke="#1a222e" stroke-width="0.2">Nr. 2</text>
<text x="67.8" y="401.5" font-size="8.2" fill="#1a222e" textLength="29.5" lengthAdjust="spacingAndGlyphs" stroke="#1a222e" stroke-width="0.2">Wothan</text>
<rect x="278.00" y="405.16" width="53.90" height="14.74" fill="#d5d08f"/>
<text x="305.1" y="416.4" font-size="8.1" fill="#94701c" text-anchor="middle" textLength="7.3" lengthAdjust="spacingAndGlyphs" stroke="#94701c" stroke-width="0.15">M</text>
<rect x="331.90" y="405.16" width="54.20" height="14.74" fill="#d9aec0"/>
<text x="359.2" y="416.4" font-size="8.1" fill="#9c2840" text-anchor="middle" textLength="5.5" lengthAdjust="spacingAndGlyphs" stroke="#9c2840" stroke-width="0.15">H</text>
<text x="42.4" y="416.3" font-size="8.2" fill="#1a222e" text-anchor="middle" textLength="17.6" lengthAdjust="spacingAndGlyphs" stroke="#1a222e" stroke-width="0.2">Nr. 3</text>
<text x="67.8" y="416.3" font-size="8.2" fill="#1a222e" textLength="27.0" lengthAdjust="spacingAndGlyphs" stroke="#1a222e" stroke-width="0.2">Monika</text>
<rect x="278.00" y="419.90" width="53.90" height="14.74" fill="#d5d08f"/>
<text x="305.1" y="431.1" font-size="8.1" fill="#94701c" text-anchor="middle" textLength="7.3" lengthAdjust="spacingAndGlyphs" stroke="#94701c" stroke-width="0.15">M</text>
<rect x="331.90" y="419.90" width="54.20" height="14.74" fill="#d9aec0"/>
<text x="359.2" y="431.1" font-size="8.1" fill="#9c2840" text-anchor="middle" textLength="5.5" lengthAdjust="spacingAndGlyphs" stroke="#9c2840" stroke-width="0.15">H</text>
<text x="42.4" y="431.0" font-size="8.2" fill="#1a222e" text-anchor="middle" textLength="17.6" lengthAdjust="spacingAndGlyphs" stroke="#1a222e" stroke-width="0.2">Nr. 3</text>
<text x="67.8" y="431.0" font-size="8.2" fill="#1a222e" textLength="27.6" lengthAdjust="spacingAndGlyphs" stroke="#1a222e" stroke-width="0.2">Karsten</text>
<rect x="278.00" y="434.64" width="53.90" height="14.74" fill="#d9aec0"/>
<text x="305.1" y="445.8" font-size="8.1" fill="#9c2840" text-anchor="middle" textLength="5.5" lengthAdjust="spacingAndGlyphs" stroke="#9c2840" stroke-width="0.15">H</text>
<rect x="331.90" y="434.64" width="54.20" height="14.74" fill="#d5d08f"/>
<text x="359.2" y="445.8" font-size="8.1" fill="#94701c" text-anchor="middle" textLength="7.3" lengthAdjust="spacingAndGlyphs" stroke="#94701c" stroke-width="0.15">M</text>
<text x="42.4" y="445.7" font-size="8.2" fill="#1a222e" text-anchor="middle" textLength="17.6" lengthAdjust="spacingAndGlyphs" stroke="#1a222e" stroke-width="0.2">Nr. 4</text>
<text x="67.8" y="445.7" font-size="8.2" fill="#1a222e" textLength="27.6" lengthAdjust="spacingAndGlyphs" stroke="#1a222e" stroke-width="0.2">Rüdiger</text>
<rect x="278.00" y="449.38" width="53.90" height="13.32" fill="#d5d08f"/>
<text x="305.1" y="460.6" font-size="8.1" fill="#94701c" text-anchor="middle" textLength="7.3" lengthAdjust="spacingAndGlyphs" stroke="#94701c" stroke-width="0.15">M</text>
<rect x="331.90" y="449.38" width="54.20" height="13.32" fill="#d9aec0"/>
<text x="359.2" y="460.6" font-size="8.1" fill="#9c2840" text-anchor="middle" textLength="5.5" lengthAdjust="spacingAndGlyphs" stroke="#9c2840" stroke-width="0.15">H</text>
<text x="42.4" y="460.5" font-size="8.2" fill="#1a222e" text-anchor="middle" textLength="17.6" lengthAdjust="spacingAndGlyphs" stroke="#1a222e" stroke-width="0.2">Nr. 4</text>
<text x="67.8" y="460.5" font-size="8.2" fill="#1a222e" textLength="23.0" lengthAdjust="spacingAndGlyphs" stroke="#1a222e" stroke-width="0.2">Emma</text>
<line x1="19.60" y1="360.94" x2="278.00" y2="360.94" stroke="#bdcad8" stroke-width="0.8"/>
<line x1="386.10" y1="360.94" x2="669.40" y2="360.94" stroke="#bdcad8" stroke-width="0.8"/>
<line x1="19.60" y1="375.68" x2="278.00" y2="375.68" stroke="#bdcad8" stroke-width="0.8"/>
<line x1="386.10" y1="375.68" x2="669.40" y2="375.68" stroke="#bdcad8" stroke-width="0.8"/>
<line x1="19.60" y1="390.42" x2="278.00" y2="390.42" stroke="#bdcad8" stroke-width="0.8"/>
<line x1="386.10" y1="390.42" x2="669.40" y2="390.42" stroke="#bdcad8" stroke-width="0.8"/>
<line x1="19.60" y1="405.16" x2="278.00" y2="405.16" stroke="#bdcad8" stroke-width="0.8"/>
<line x1="386.10" y1="405.16" x2="669.40" y2="405.16" stroke="#bdcad8" stroke-width="0.8"/>
<line x1="19.60" y1="419.90" x2="278.00" y2="419.90" stroke="#bdcad8" stroke-width="0.8"/>
<line x1="386.10" y1="419.90" x2="669.40" y2="419.90" stroke="#bdcad8" stroke-width="0.8"/>
<line x1="19.60" y1="434.64" x2="278.00" y2="434.64" stroke="#bdcad8" stroke-width="0.8"/>
<line x1="386.10" y1="434.64" x2="669.40" y2="434.64" stroke="#bdcad8" stroke-width="0.8"/>
<line x1="19.60" y1="449.38" x2="278.00" y2="449.38" stroke="#bdcad8" stroke-width="0.8"/>
<line x1="386.10" y1="449.38" x2="669.40" y2="449.38" stroke="#bdcad8" stroke-width="0.8"/>
<line x1="65.90" y1="346.20" x2="65.90" y2="462.70" stroke="#bdcad8" stroke-width="0.8"/>
<line x1="170.30" y1="346.20" x2="170.30" y2="462.70" stroke="#bdcad8" stroke-width="0.8"/>
<line x1="224.20" y1="346.20" x2="224.20" y2="462.70" stroke="#bdcad8" stroke-width="0.8"/>
<line x1="386.10" y1="346.20" x2="386.10" y2="462.70" stroke="#bdcad8" stroke-width="0.8"/>
<line x1="439.80" y1="346.20" x2="439.80" y2="462.70" stroke="#bdcad8" stroke-width="0.8"/>
<line x1="493.70" y1="346.20" x2="493.70" y2="462.70" stroke="#bdcad8" stroke-width="0.8"/>
<line x1="547.60" y1="346.20" x2="547.60" y2="462.70" stroke="#bdcad8" stroke-width="0.8"/>
<line x1="601.50" y1="346.20" x2="601.50" y2="462.70" stroke="#bdcad8" stroke-width="0.8"/>
<line x1="655.30" y1="346.20" x2="655.30" y2="462.70" stroke="#bdcad8" stroke-width="0.8"/>
<text x="16.1" y="473.2" font-size="12.5" fill="#000" font-weight="bold" textLength="5.4" lengthAdjust="spacingAndGlyphs" stroke="#000" stroke-width="0.3">c</text>
</g>
</svg>
</body></html>
